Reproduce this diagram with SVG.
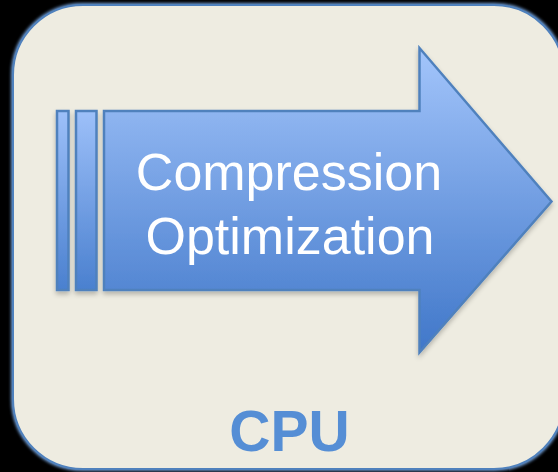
<svg xmlns="http://www.w3.org/2000/svg" width="558" height="472" viewBox="0 0 558 472">
<style>
.lbl{font-family:"Liberation Sans",Arial,sans-serif;fill:#ffffff;font-size:52px;text-anchor:middle}
.cpu{font-family:"Liberation Sans",Arial,sans-serif;fill:#558ED5;font-size:57px;font-weight:bold;text-anchor:middle}
.blue{fill:url(#g);stroke:#4F81BD;stroke-width:2.5}
</style>
<defs>
<linearGradient id="g" x1="0" y1="0" x2="0" y2="1">
<stop offset="0" stop-color="#9DC0F9"/>
<stop offset="1" stop-color="#4A80CF"/>
</linearGradient>
<linearGradient id="gh" gradientUnits="userSpaceOnUse" x1="0" y1="48" x2="0" y2="352">
<stop offset="0" stop-color="#A3C5FB"/>
<stop offset="1" stop-color="#4077C9"/>
</linearGradient>
<filter id="sh" x="-10%" y="-10%" width="120%" height="120%">
<feGaussianBlur in="SourceAlpha" stdDeviation="2.5"/>
<feOffset dx="0" dy="3"/>
<feComponentTransfer><feFuncA type="linear" slope="0.25"/></feComponentTransfer>
<feMerge><feMergeNode/><feMergeNode in="SourceGraphic"/></feMerge>
</filter>
<filter id="glow" x="-5%" y="-5%" width="110%" height="110%">
<feGaussianBlur stdDeviation="1.5"/>
</filter>
</defs>
<rect width="558" height="472" fill="#000000"/>
<g id="cpu-box">
<rect x="13" y="5" width="551" height="464" rx="70" ry="70" fill="none" stroke="#6E9AD0" stroke-width="4" filter="url(#glow)"/>
<rect x="13" y="5" width="551" height="464" rx="70" ry="70" fill="#EEECE1" stroke="#4F81BD" stroke-width="2"/>
<text class="cpu" x="289.5" y="451">CPU</text>
</g>
<g id="arrow" filter="url(#sh)">
<rect class="blue" x="57" y="111" width="11.5" height="179"/>
<rect class="blue" x="76" y="111" width="20.5" height="179"/>
<path d="M104 111 H419.5 V48 L551.5 201.5 L419.5 352.5 V290 H104 Z" fill="url(#gh)" stroke="#4F81BD" stroke-width="2.5" stroke-linejoin="miter"/>
<text class="lbl" x="289" y="189.5">Compression</text>
<text class="lbl" x="290" y="253.5">Optimization</text>
</g>
<g id="connectors"/>
</svg>
